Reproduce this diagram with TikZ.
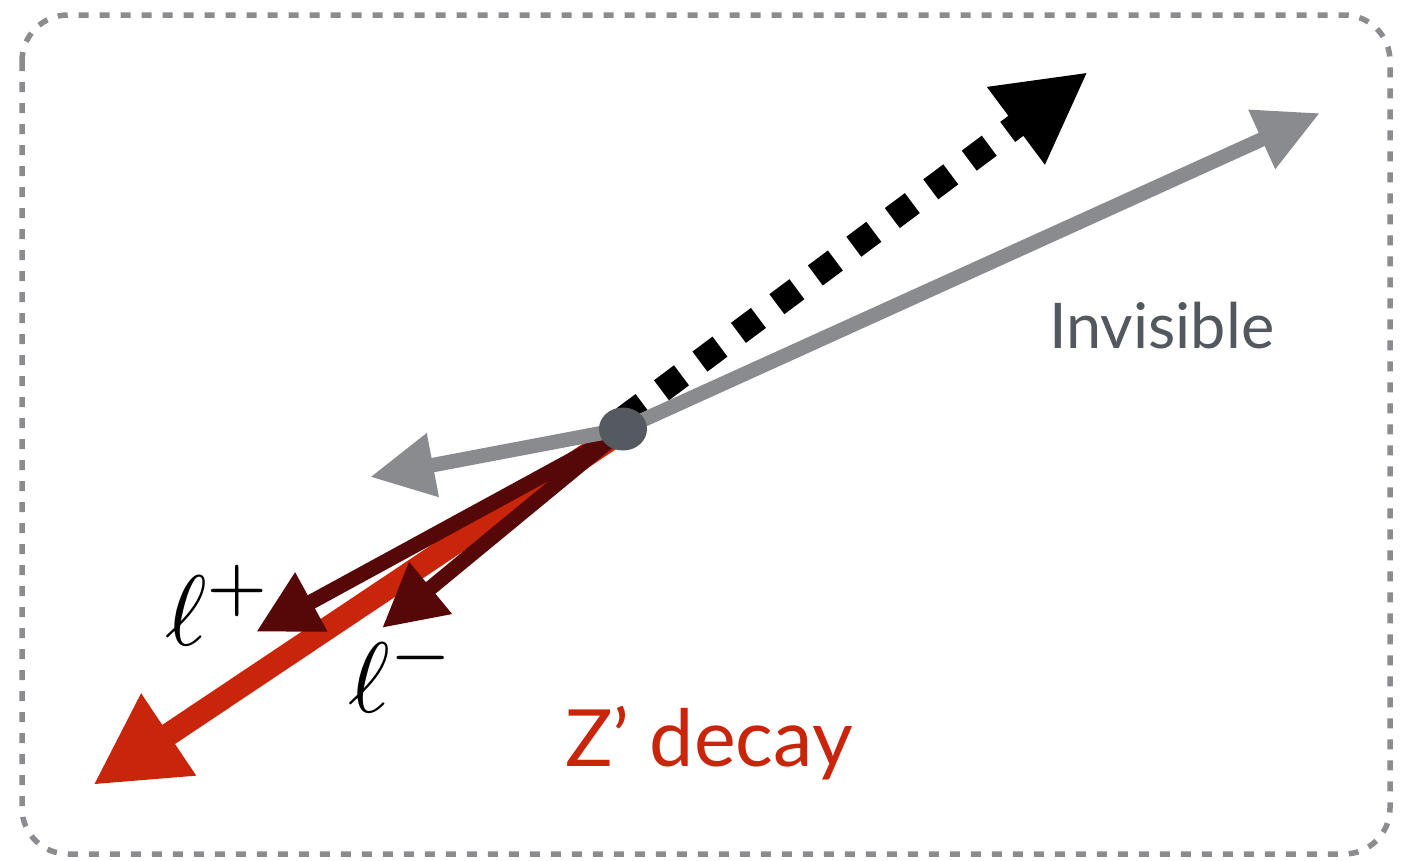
\documentclass[tikz,border=0pt]{standalone}
\usepackage{fontspec}
\setmainfont{Lato}
\usetikzlibrary{arrows.meta,shapes.geometric}
\definecolor{framegray}{HTML}{8A8C90}
\definecolor{arrowgray}{HTML}{898B8E}
\definecolor{vertexgray}{HTML}{555A61}
\definecolor{textgray}{HTML}{53575E}
\definecolor{zred}{HTML}{C8250A}
\definecolor{darkred}{HTML}{560708}
\begin{document}
\begin{tikzpicture}[x=1pt,y=-1pt,
  frame/.style={draw=framegray,line width=5.5pt,dash pattern=on 10pt off 11pt,rounded corners=46pt},
  grayarrow/.style={draw=arrowgray,line width=14.5pt,-{Triangle[length=64pt,width=61pt]}},
  dotarrow/.style={draw=black,line width=25pt,dash pattern=on 25pt off 23pt,-{Triangle[length=90pt,width=90pt]}},
  redarrow/.style={draw=zred,line width=23pt,-{Triangle[length=91pt,width=92pt]}},
  leparrow/.style={draw=darkred,line width=15pt,-{Triangle[length=63pt,width=63pt]}},
  vertexstyle/.style={ellipse,fill=vertexgray,minimum width=48pt,minimum height=43pt,inner sep=0pt},
  mathlabel/.style={scale=10,anchor=base west,inner sep=0pt},
]
\useasboundingbox (0,0) rectangle (1409,860);
\draw[frame] (22,15) rectangle (1390,854);

\coordinate (v) at (623,429);
\coordinate (dotstart) at (623,419);
\coordinate (redstart) at (612,438);
\coordinate (lpstart) at (610,439);
\coordinate (lmstart) at (615,436);
\coordinate (redtip) at (93,785);
\coordinate (lptip) at (256,632);
\coordinate (lmtip) at (382,628);
\coordinate (graylefttip) at (370,477);
\coordinate (grayuptip) at (1320,113);
\coordinate (dottip) at (1088,72);

\draw[redarrow] (redstart) -- (redtip);
\draw[leparrow] (lpstart) -- (lptip);
\draw[leparrow] (lmstart) -- (lmtip);
\draw[dotarrow] (dotstart) -- (dottip);
\draw[grayarrow] (v) -- (graylefttip);
\draw[grayarrow] (v) -- (grayuptip);
\node[vertexstyle] (vertex) at (v) {};

\node[mathlabel] (lplus) at (163,645) {$\ell^+$};
\node[mathlabel] (lminus) at (346,712) {$\ell^-$};
\node[anchor=base west,inner sep=0pt,text=textgray,font=\fontsize{63}{70}\selectfont] (invis) at (1049,348) {Invisible};
\node[anchor=base west,inner sep=0pt,text=zred,font=\fontsize{79}{90}\selectfont] (zdecay) at (565,766) {Z’ decay};
\end{tikzpicture}
\end{document}
